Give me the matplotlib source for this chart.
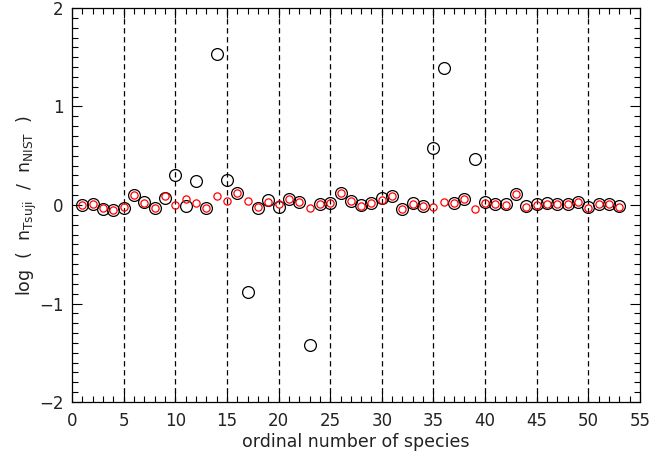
import matplotlib
matplotlib.use('Agg')
import matplotlib.pyplot as plt
import numpy as np

plt.rcParams['font.family'] = ['DejaVu Sans']
plt.rcParams['mathtext.fontset'] = 'dejavusans'

species = np.arange(1, 54)

# log abundance ratio, large circles
log_ratio_all = [0.00, 0.01, -0.04, -0.05, -0.03, 0.10, 0.03, -0.03, 0.07, 0.30,
                 -0.01, 0.24, -0.03, 1.53, 0.25, 0.12, -0.88, -0.03, 0.05, -0.02,
                 0.06, 0.03, -1.42, 0.01, 0.02, 0.12, 0.04, 0.00, 0.02, 0.07,
                 0.09, -0.04, 0.02, -0.01, 0.58, 1.39, 0.02, 0.06, 0.47, 0.03,
                 0.01, 0.01, 0.11, -0.01, 0.01, 0.02, 0.01, 0.01, 0.03, -0.02,
                 0.01, 0.01, -0.01]

# log abundance ratio, small red circles
log_ratio_red = [0.00, 0.01, -0.03, -0.05, -0.02, 0.10, 0.02, -0.03, 0.09, 0.00,
                 0.06, 0.02, -0.03, 0.09, 0.04, 0.12, 0.04, -0.02, 0.03, 0.01,
                 0.06, 0.03, -0.03, 0.01, 0.02, 0.12, 0.04, -0.01, 0.02, 0.05,
                 0.09, -0.04, 0.01, -0.01, -0.02, 0.03, 0.02, 0.06, -0.04, 0.02,
                 0.01, 0.00, 0.11, -0.02, 0.00, 0.01, 0.01, 0.01, 0.03, -0.03,
                 0.01, 0.01, -0.02]

x_ticks = list(range(0, 56, 5))
y_ticks = [-2, -1, 0, 1, 2]
dash_positions = list(range(5, 55, 5))

text_color = '#222222'

fig = plt.figure(figsize=(6.64, 4.54), dpi=100)
ax = fig.add_axes([0.1084, 0.1145, 0.8555, 0.8679])

for xv in dash_positions:
    ax.axvline(xv, color='black', lw=0.9, dashes=(4.3, 2.9), zorder=1)

ax.plot(species, log_ratio_all, 'o', ms=8.5, mfc='none', mec='black', mew=0.9, zorder=2)
ax.plot(species, log_ratio_red, 'o', ms=5.2, mfc='none', mec='red', mew=0.9, zorder=3)

ax.set_xlim(0, 55)
ax.set_ylim(-2, 2)
ax.set_xticks(x_ticks)
ax.set_xticks(range(0, 56), minor=True)
ax.set_yticks(y_ticks)
ax.set_yticks(np.arange(-2, 2.01, 0.1), minor=True)
ax.set_yticklabels(['\u22122', '\u22121', '0', '1', '2'])

ax.tick_params(which='both', direction='in', top=True, right=True,
               labelsize=12, width=0.8, color='black', labelcolor=text_color)
ax.tick_params(which='major', length=7)
ax.tick_params(which='minor', length=4)
ax.tick_params(axis='x', which='major', pad=7)
ax.tick_params(axis='y', which='major', pad=6)
for s in ax.spines.values():
    s.set_linewidth(0.9)

ax.set_xlabel('ordinal number of species', fontsize=12.5, labelpad=2, color=text_color)
ax.set_ylabel(r'log  (  n$_{\mathregular{Tsuji}}$  /  n$_{\mathregular{NIST}}$  )',
              fontsize=12.5, labelpad=0, color=text_color)

fig.savefig('out.png', dpi=100)
